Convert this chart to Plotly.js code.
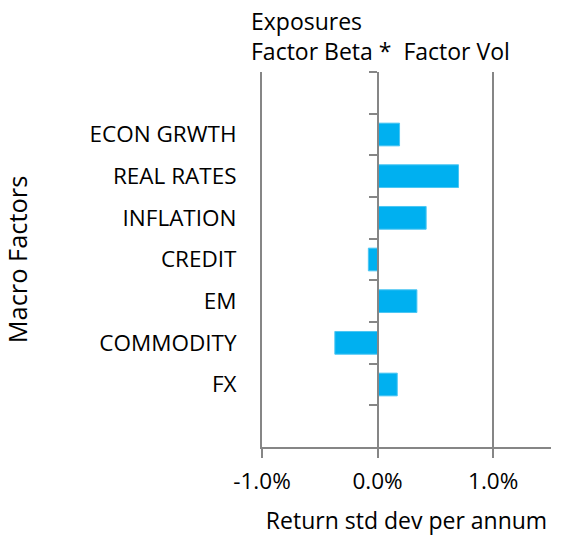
<!DOCTYPE html>
<html>
<head>
<meta charset="utf-8">
<script src="https://cdn.plot.ly/plotly-3.0.1.min.js"></script>
<style>html,body{margin:0;padding:0;background:#fff;}#chart{width:562px;height:536px;}</style>
</head>
<body>
<div id="chart"></div>
<script>
// Data (values in % per annum)
var categories = ['ECON GRWTH', 'REAL RATES', 'INFLATION', 'CREDIT', 'EM', 'COMMODITY', 'FX'];
var exposures = [0.19, 0.70, 0.42, -0.08, 0.34, -0.37, 0.17];
var xTickValues = [-1, 0, 1];
var xTickLabels = ['-1.0%', '0.0%', '1.0%'];
var blankTop = ' ';
var blankBottom = '  ';

var slots = [blankTop].concat(categories, [blankBottom]);
var FONT = '"Open Sans", Lato, sans-serif';
var FS = 22.5;
var GRAY = '#868686';
var W = 562, H = 536;
var L = 262, R = 11, T = 72, B = 89;
var xRange = [-1, 1.5];
var zeroPos = (0 - xRange[0]) / (xRange[1] - xRange[0]);

var trace = {
  type: 'bar',
  orientation: 'h',
  x: exposures,
  y: categories,
  marker: {color: '#00B0F0', line: {color: '#4cc6f3', width: 1}},
  hoverinfo: 'x+y'
};

var axisTrace = {
  type: 'scatter', mode: 'markers',
  x: categories.map(function () { return null; }),
  y: categories, yaxis: 'y2',
  hoverinfo: 'skip', showlegend: false
};

var layout = {
  width: W, height: H,
  margin: {l: L, r: R, t: T, b: B, pad: 0},
  paper_bgcolor: '#fff', plot_bgcolor: '#fff',
  font: {family: FONT, size: FS, color: '#000'},
  showlegend: false,
  bargap: 0.455,
  title: {
    text: 'Exposures<br>Factor Beta *\u00a0\u00a0Factor Vol',
    font: {family: FONT, size: 23, color: '#000'},
    xref: 'container', yref: 'container',
    x: 251 / W, xanchor: 'left',
    y: 1 - 30 / H, yanchor: 'top'
  },
  xaxis: {
    range: xRange,
    tickvals: xTickValues,
    ticktext: xTickLabels,
    showgrid: true, gridcolor: GRAY, gridwidth: 2,
    zeroline: true, zerolinecolor: GRAY, zerolinewidth: 2,
    showline: true, linecolor: GRAY, linewidth: 2,
    ticks: 'outside', ticklen: 9, tickwidth: 2, tickcolor: GRAY,
    ticklabelstandoff: 4,
    tickfont: {family: FONT, size: FS, color: '#000'},
    title: {text: 'Return std dev per annum', font: {family: FONT, size: 23, color: '#000'}, standoff: 27},
    fixedrange: true
  },
  yaxis: {
    type: 'category',
    categoryorder: 'array', categoryarray: slots,
    range: [slots.length - 0.5, -0.5],
    showgrid: false, zeroline: false,
    showline: true, linecolor: GRAY, linewidth: 2,
    ticks: '', ticklabelstandoff: 19,
    tickfont: {family: FONT, size: FS, color: '#000'},
    title: {text: 'Macro Factors', font: {family: FONT, size: 25.4, color: '#000'}, standoff: 57},
    fixedrange: true
  },
  yaxis2: {
    type: 'category',
    overlaying: 'y', anchor: 'free', position: zeroPos, side: 'left',
    categoryorder: 'array', categoryarray: slots,
    range: [slots.length - 0.5, -0.5],
    showgrid: false, zeroline: false,
    showline: true, linecolor: GRAY, linewidth: 2,
    ticks: 'outside', tickson: 'boundaries', ticklen: 8, tickwidth: 2, tickcolor: GRAY,
    showticklabels: false,
    fixedrange: true
  }
};

Plotly.newPlot('chart', [trace, axisTrace], layout, {displayModeBar: false});
</script>
</body>
</html>
